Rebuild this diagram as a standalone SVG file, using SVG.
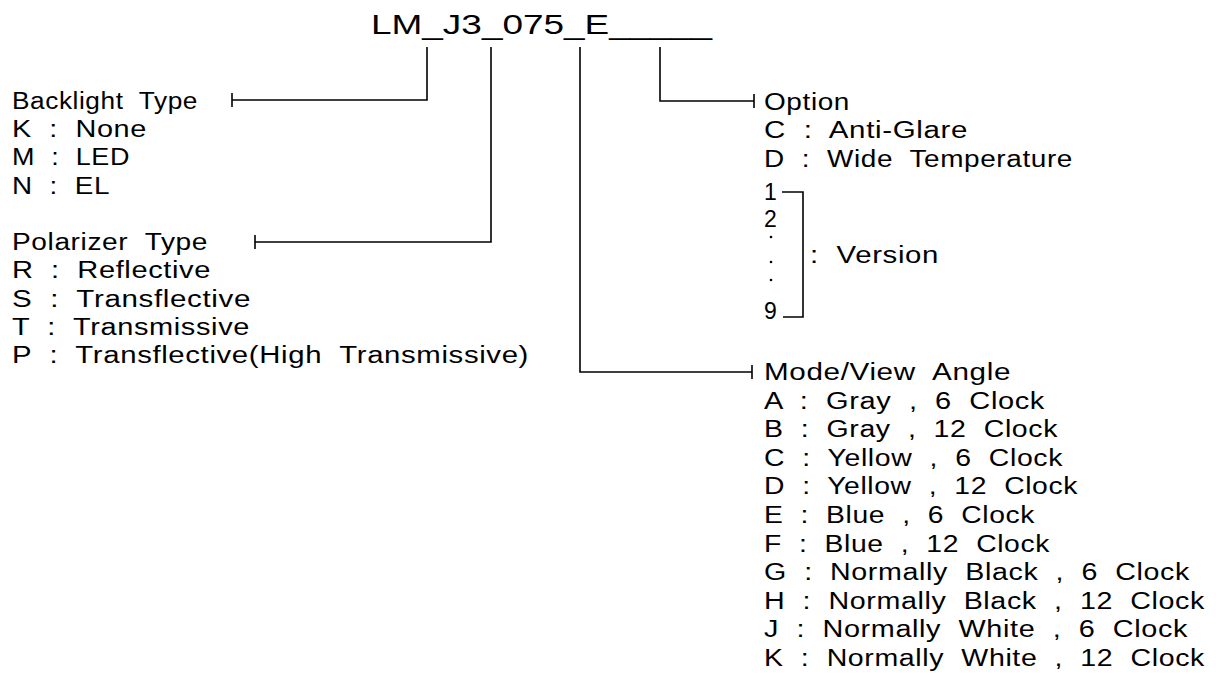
<svg xmlns="http://www.w3.org/2000/svg" width="1216" height="681" viewBox="0 0 1216 681">
<style>
.t{font-family:"Liberation Sans",Arial,sans-serif;font-size:23px;fill:#000;word-spacing:7px;letter-spacing:0.5px}
.title{font-family:"Liberation Sans",Arial,sans-serif;font-size:28px;fill:#000}
.c{fill:none;stroke:#000;stroke-width:1.6}
</style>
<rect width="1216" height="681" fill="#fff"/>
<g id="title"><text class="title" x="371" y="33.5" textLength="341" lengthAdjust="spacingAndGlyphs">LM_J3_075_E_____</text></g>
<g id="connectors">
<path class="c" d="M427,47V100H232M232,93V107"/>
<path class="c" d="M491,47V242H255M255,235V249"/>
<path class="c" d="M580,47V372H752M752,365V379"/>
<path class="c" d="M660,47V101H754M754,94V108"/>
<path class="c" d="M782,192H803V317H783"/>
</g>
<g id="backlight">
<text class="t" x="12" y="108.5" textLength="186" lengthAdjust="spacingAndGlyphs">Backlight Type</text>
<text class="t" x="12" y="137" textLength="135" lengthAdjust="spacingAndGlyphs">K : None</text>
<text class="t" x="12" y="165.3" textLength="118" lengthAdjust="spacingAndGlyphs">M : LED</text>
<text class="t" x="12" y="193.6" textLength="98" lengthAdjust="spacingAndGlyphs">N : EL</text>
</g>
<g id="polarizer">
<text class="t" x="12" y="250" textLength="196" lengthAdjust="spacingAndGlyphs">Polarizer Type</text>
<text class="t" x="12" y="278.3" textLength="199" lengthAdjust="spacingAndGlyphs">R : Reflective</text>
<text class="t" x="12" y="306.6" textLength="239" lengthAdjust="spacingAndGlyphs">S : Transflective</text>
<text class="t" x="12" y="335" textLength="238" lengthAdjust="spacingAndGlyphs">T : Transmissive</text>
<text class="t" x="12" y="363.3" textLength="517" lengthAdjust="spacingAndGlyphs">P : Transflective(High Transmissive)</text>
</g>
<g id="option">
<text class="t" x="764" y="109.5" textLength="86" lengthAdjust="spacingAndGlyphs">Option</text>
<text class="t" x="764" y="138" textLength="204" lengthAdjust="spacingAndGlyphs">C : Anti-Glare</text>
<text class="t" x="764" y="166.5" textLength="309" lengthAdjust="spacingAndGlyphs">D : Wide Temperature</text>
<text class="t" x="764" y="200">1</text>
<text class="t" x="764" y="227">2</text>
<circle cx="771" cy="237" r="1.3"/>
<circle cx="771" cy="262" r="1.3"/>
<circle cx="771" cy="280" r="1.3"/>
<text class="t" x="764" y="319">9</text>
<text class="t" x="810" y="263" textLength="129" lengthAdjust="spacingAndGlyphs">: Version</text>
</g>
<g id="mode">
<text class="t" x="764" y="380" textLength="247" lengthAdjust="spacingAndGlyphs">Mode/View Angle</text>
<text class="t" x="764" y="408.6" textLength="281" lengthAdjust="spacingAndGlyphs">A : Gray , 6 Clock</text>
<text class="t" x="764" y="437.2" textLength="294" lengthAdjust="spacingAndGlyphs">B : Gray , 12 Clock</text>
<text class="t" x="764" y="465.8" textLength="299" lengthAdjust="spacingAndGlyphs">C : Yellow , 6 Clock</text>
<text class="t" x="764" y="494.4" textLength="314" lengthAdjust="spacingAndGlyphs">D : Yellow , 12 Clock</text>
<text class="t" x="764" y="523" textLength="271" lengthAdjust="spacingAndGlyphs">E : Blue , 6 Clock</text>
<text class="t" x="764" y="551.6" textLength="286" lengthAdjust="spacingAndGlyphs">F : Blue , 12 Clock</text>
<text class="t" x="764" y="580.2" textLength="426" lengthAdjust="spacingAndGlyphs">G : Normally Black , 6 Clock</text>
<text class="t" x="764" y="608.8" textLength="441" lengthAdjust="spacingAndGlyphs">H : Normally Black , 12 Clock</text>
<text class="t" x="764" y="637.4" textLength="424" lengthAdjust="spacingAndGlyphs">J : Normally White , 6 Clock</text>
<text class="t" x="764" y="666" textLength="441" lengthAdjust="spacingAndGlyphs">K : Normally White , 12 Clock</text>
</g>
</svg>
